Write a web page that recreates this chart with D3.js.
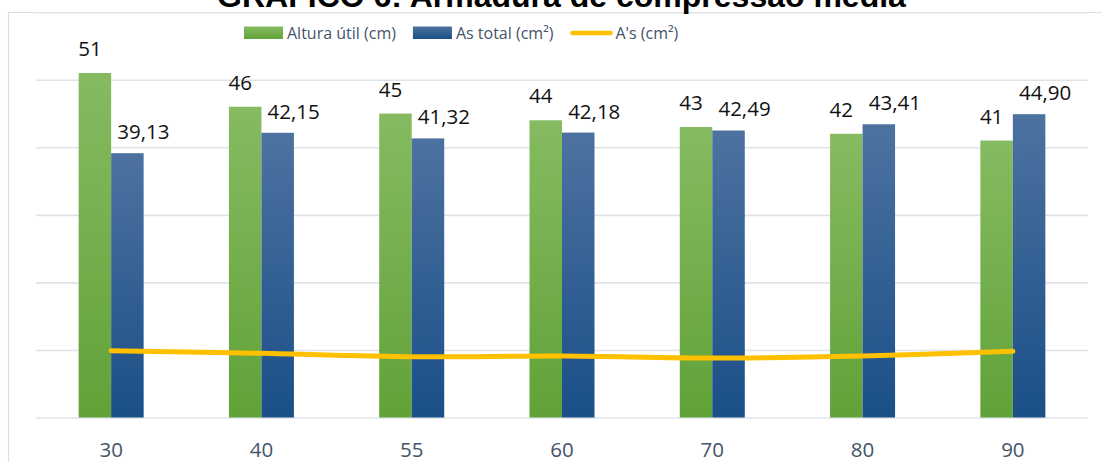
<!DOCTYPE html>
<html lang="pt">
<head>
<meta charset="utf-8">
<title>GRÁFICO 6: Armadura de compressão média</title>
<script src="https://cdn.jsdelivr.net/npm/d3@7/dist/d3.min.js"></script>
<style>
  html, body { margin: 0; padding: 0; background: #ffffff; }
  svg { display: block; }
</style>
</head>
<body>
<svg id="chart" width="1102" height="462"></svg>
<script>
// ---- data ----
const categories = ["30", "40", "55", "60", "70", "80", "90"];
const alturaUtil = [51, 46, 45, 44, 43, 42, 41];
const asTotal = [39.13, 42.15, 41.32, 42.18, 42.49, 43.41, 44.90];
const asLinha = [9.9, 9.5, 9.0, 9.1, 8.8, 9.1, 9.8];
const yTicks = [0, 10, 20, 30, 40, 50, 60];
const seriesNames = ["Altura útil (cm)", "As total (cm²)", "A's (cm²)"];
const chartTitle = "GRÁFICO 6: Armadura de compressão média";

// ---- layout ----
const W = 1102, H = 462;
const plot = { left: 36, right: 1088, top: 12.2, bottom: 417.5 };
const groupWidth = 65;

const svg = d3.select("#chart");
const defs = svg.append("defs");

// vertical gradients for the bar fills
function vGradient(id, top, bottom) {
  const g = defs.append("linearGradient")
    .attr("id", id).attr("x1", 0).attr("y1", 0).attr("x2", 0).attr("y2", 1);
  g.append("stop").attr("offset", "0%").attr("stop-color", top);
  g.append("stop").attr("offset", "100%").attr("stop-color", bottom);
}
vGradient("gradGreen", "#86bb61", "#61a238");
vGradient("gradBlue", "#4d72a0", "#1a4f88");

// outer chart frame (top and left edges)
svg.append("path")
  .attr("d", `M8.5,${H + 5} V12.5 H${W + 5}`)
  .attr("fill", "none")
  .attr("stroke", "#d9dde4")
  .attr("stroke-width", 1.2);

// scales
const x0 = d3.scaleBand().domain(categories).range([plot.left, plot.right]).padding(0);
const x1 = d3.scaleBand().domain(["altura", "as"]).range([0, groupWidth]).padding(0);
const y = d3.scaleLinear().domain([0, 60]).range([plot.bottom, plot.top]);
const center = c => x0(c) + x0.bandwidth() / 2;

// horizontal gridlines
const grid = d3.axisLeft(y).tickValues(yTicks).tickSize(-(plot.right - plot.left)).tickFormat("");
svg.append("g")
  .attr("transform", `translate(${plot.left},0)`)
  .call(grid)
  .call(g => g.select(".domain").remove())
  .call(g => g.selectAll("line").attr("stroke", "#dfe3e9").attr("stroke-width", 1.6));

// bars
const rows = categories.map((c, i) => ({ c, altura: alturaUtil[i], as: asTotal[i], linha: asLinha[i] }));

svg.append("g").selectAll("rect")
  .data(rows).join("rect")
  .attr("x", d => center(d.c) - groupWidth / 2 + x1("altura"))
  .attr("width", x1.bandwidth())
  .attr("y", d => y(d.altura))
  .attr("height", d => y(0) - y(d.altura))
  .attr("fill", "url(#gradGreen)");

svg.append("g").selectAll("rect")
  .data(rows).join("rect")
  .attr("x", d => center(d.c) - groupWidth / 2 + x1("as"))
  .attr("width", x1.bandwidth())
  .attr("y", d => y(d.as))
  .attr("height", d => y(0) - y(d.as))
  .attr("fill", "url(#gradBlue)");

// A's line, smoothed
const line = d3.line()
  .x(d => center(d.c))
  .y(d => y(d.linha))
  .curve(d3.curveCatmullRom.alpha(0.5));
svg.append("path")
  .datum(rows)
  .attr("d", line)
  .attr("fill", "none")
  .attr("stroke", "#ffc000")
  .attr("stroke-width", 5)
  .attr("stroke-linecap", "round")
  .attr("stroke-linejoin", "round");

// value labels
const ptBR = d3.formatLocale({ decimal: ",", thousands: ".", grouping: [3], currency: ["R$", ""] });
const fmtInt = ptBR.format("d");
const fmtDec = ptBR.format(".2f");
const labelFont = "'Open Sans', sans-serif";

svg.append("g").selectAll("text")
  .data(rows).join("text")
  .attr("x", d => center(d.c) - groupWidth / 2 + x1("altura") + x1.bandwidth() / 2 - 5)
  .attr("y", d => y(d.altura) - 17)
  .attr("text-anchor", "middle")
  .attr("font-family", labelFont)
  .attr("font-size", 20.5)
  .attr("fill", "#111111")
  .text(d => fmtInt(d.altura));

svg.append("g").selectAll("text")
  .data(rows).join("text")
  .attr("x", d => center(d.c) - groupWidth / 2 + x1("as") + x1.bandwidth() / 2 + 16)
  .attr("y", d => y(d.as) - 14)
  .attr("text-anchor", "middle")
  .attr("font-family", labelFont)
  .attr("font-size", 20.5)
  .attr("fill", "#111111")
  .text(d => fmtDec(d.as));

// category axis
const xAxis = d3.axisBottom(x0).tickSize(0).tickPadding(0);
svg.append("g")
  .attr("transform", `translate(0,${plot.bottom})`)
  .call(xAxis)
  .call(g => g.select(".domain").remove())
  .call(g => g.selectAll("text")
    .attr("dy", null)
    .attr("y", 39.5)
    .attr("font-family", labelFont)
    .attr("font-size", 20.5)
    .attr("fill", "#44546a"));

// title
svg.append("text")
  .attr("x", 561.5)
  .attr("y", 7)
  .attr("text-anchor", "middle")
  .attr("font-family", "'Liberation Sans', Arial, sans-serif")
  .attr("font-weight", "bold")
  .attr("font-size", 32)
  .attr("fill", "#000000")
  .text(chartTitle);

// legend
const legend = svg.append("g").attr("font-family", labelFont).attr("font-size", 16).attr("fill", "#44546a");
let lx = 244;
const ly = 33;
const swatches = [
  { type: "rect", fill: "url(#gradGreen)" },
  { type: "rect", fill: "url(#gradBlue)" },
  { type: "line", fill: "#ffc000" }
];
seriesNames.forEach((name, i) => {
  const s = swatches[i];
  if (s.type === "rect") {
    legend.append("rect")
      .attr("x", lx).attr("y", ly - 6.5).attr("width", 39).attr("height", 12.5)
      .attr("fill", s.fill);
    lx += 43;
  } else {
    legend.append("line")
      .attr("x1", lx + 2).attr("x2", lx + 40).attr("y1", ly).attr("y2", ly)
      .attr("stroke", s.fill).attr("stroke-width", 4.5).attr("stroke-linecap", "round");
    lx += 45;
  }
  const t = legend.append("text").attr("x", lx).attr("y", ly + 5.5).text(name);
  lx += t.node().getComputedTextLength() + 17;
});
</script>
</body>
</html>
